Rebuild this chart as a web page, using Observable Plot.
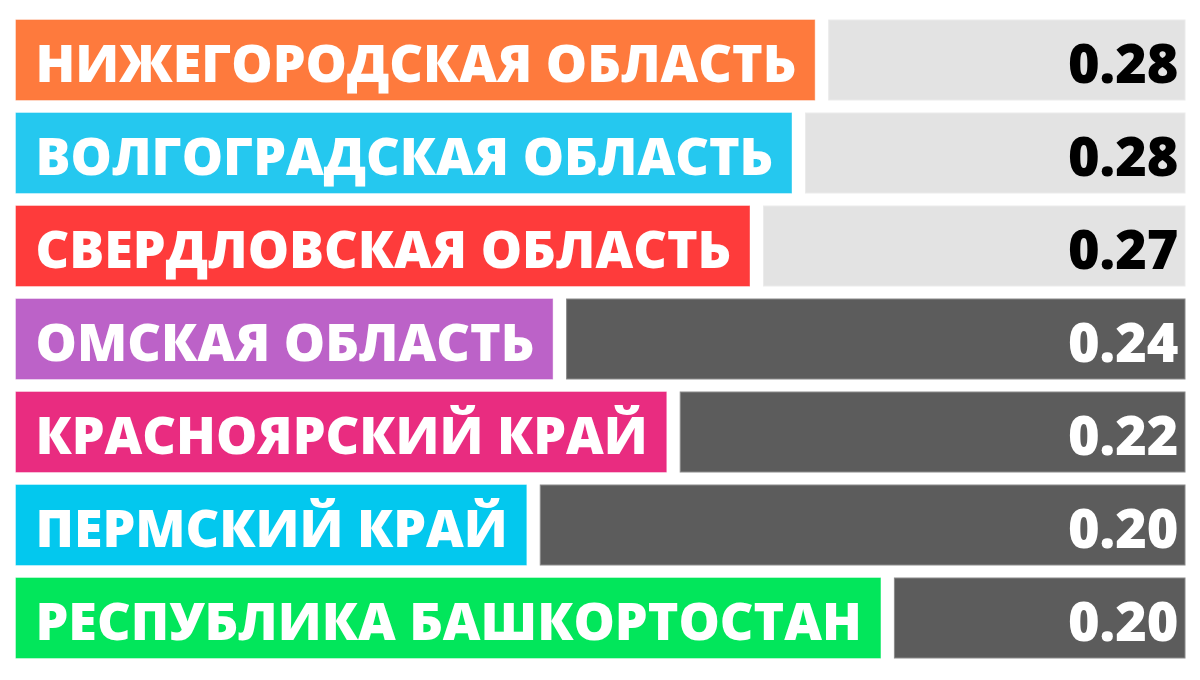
<!DOCTYPE html>
<html>
<head>
<meta charset="utf-8">
<script src="https://cdn.jsdelivr.net/npm/d3@7"></script>
<script src="https://cdn.jsdelivr.net/npm/@observablehq/plot@0.6"></script>
<style>
  html, body { margin: 0; padding: 0; background: #ffffff; }
  #chart { width: 1200px; height: 680px; }
</style>
</head>
<body>
<div id="chart"></div>
<script>
// ---- data ----
const regions = [
  "НИЖЕГОРОДСКАЯ ОБЛАСТЬ",
  "ВОЛГОГРАДСКАЯ ОБЛАСТЬ",
  "СВЕРДЛОВСКАЯ ОБЛАСТЬ",
  "ОМСКАЯ ОБЛАСТЬ",
  "КРАСНОЯРСКИЙ КРАЙ",
  "ПЕРМСКИЙ КРАЙ",
  "РЕСПУБЛИКА БАШКОРТОСТАН"
];
const values = [0.28, 0.28, 0.27, 0.24, 0.22, 0.20, 0.20];
const regionColors = ["#FE7A3D", "#25C8EF", "#FE3B3B", "#BC62C8", "#E92C80", "#03C8EE", "#02E65B"];
const highlightedCount = 3;

// ---- style ----
const W = 1200, H = 680;
const fontFamily = "'Open Sans', sans-serif";
const fontSize = 52;
const fontWeight = 800;
const labelStart = 16;
const labelPad = 19;
const gap = 14;
const rightEdge = 1185;

const ctx = document.createElement("canvas").getContext("2d");
ctx.font = `${fontWeight} ${fontSize}px ${fontFamily}`;

const rows = regions.map((name, i) => {
  const tw = ctx.measureText(name).width;
  const labelEnd = labelStart + tw + 2 * labelPad;
  return {
    name,
    value: values[i],
    color: regionColors[i],
    labelEnd,
    top: i < highlightedCount
  };
});

const chart = Plot.plot({
  width: W,
  height: H,
  marginTop: 13,
  marginBottom: 15,
  marginLeft: 0,
  marginRight: 0,
  style: { fontFamily, background: "#ffffff" },
  x: { domain: [0, W], axis: null },
  y: { domain: regions, axis: null, paddingInner: 0.137, paddingOuter: 0.0685 },
  color: { type: "identity" },
  marks: [
    Plot.barX(rows, {
      y: "name",
      x1: () => labelStart,
      x2: "labelEnd",
      fill: "color",
      stroke: "color",
      strokeOpacity: 0.6
    }),
    Plot.barX(rows, {
      y: "name",
      x1: d => d.labelEnd + gap,
      x2: () => rightEdge,
      fill: d => d.top ? "#E3E3E3" : "#5C5C5C",
      stroke: d => d.top ? "#EBEBEB" : "#8A8A8A",
      strokeWidth: 1
    }),
    Plot.text(rows, {
      y: "name",
      x: () => labelStart + labelPad,
      text: "name",
      textAnchor: "start",
      fill: "#ffffff",
      fontSize,
      fontWeight,
      dy: 5
    }),
    Plot.text(rows, {
      y: "name",
      x: () => rightEdge - 7,
      text: d => d.value.toFixed(2),
      textAnchor: "end",
      fill: d => d.top ? "#000000" : "#ffffff",
      fontSize: 54,
      fontWeight,
      dy: 5
    })
  ]
});

document.getElementById("chart").appendChild(chart);
</script>
</body>
</html>
